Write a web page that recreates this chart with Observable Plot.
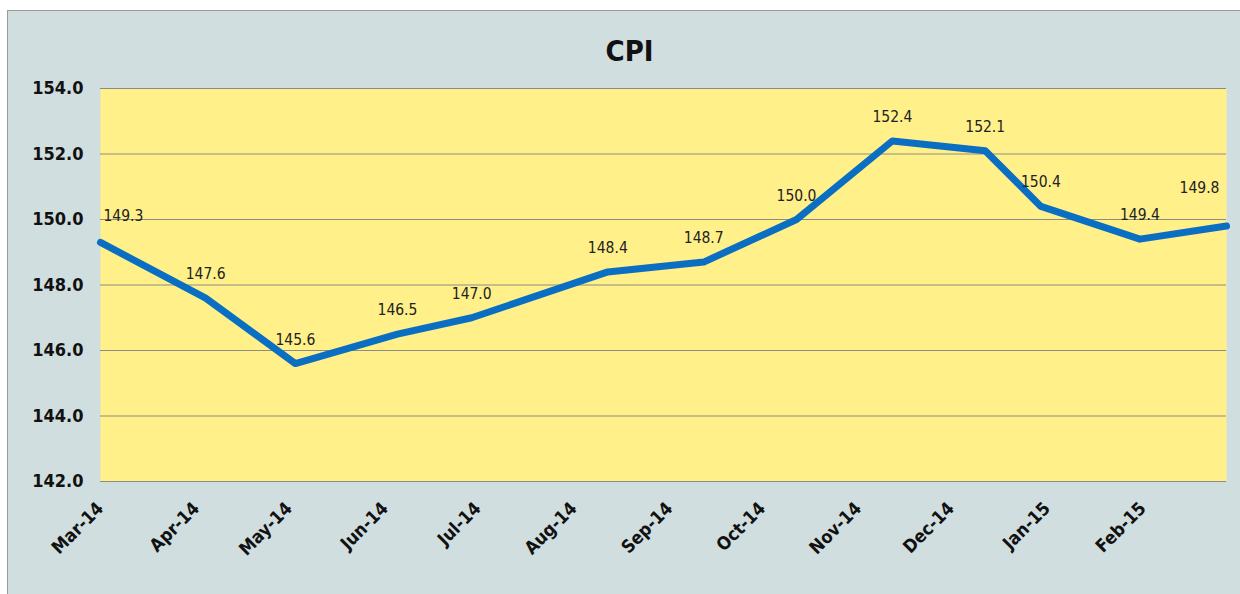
<!DOCTYPE html>
<html>
<head>
<meta charset="utf-8">
<script src="https://cdn.jsdelivr.net/npm/d3@7"></script>
<script src="https://cdn.jsdelivr.net/npm/@observablehq/plot@0.6"></script>
<style>
  html, body { margin: 0; padding: 0; background: #ffffff; }
  #frame {
    position: absolute; left: 7px; top: 10px;
    width: 1233px; height: 584px;
    background: #d0dee0;
    border-left: 1px solid #9a9a9a;
    border-top: 1px solid #9a9a9a;
  }
</style>
</head>
<body>
<div id="frame"></div>
<script>
// ---- data ----
const dates = ["2014-03-01","2014-04-04","2014-05-03","2014-06-05","2014-06-29","2014-08-12",
               "2014-09-12","2014-10-12","2014-11-12","2014-12-12","2014-12-30","2015-01-31","2015-02-28"];
const values = [149.3, 147.6, 145.6, 146.5, 147.0, 148.4, 148.7, 150.0, 152.4, 152.1, 150.4, 149.4, 149.8];
const tickMonths = ["2014-03-01","2014-04-01","2014-05-01","2014-06-01","2014-07-01","2014-08-01",
                    "2014-09-01","2014-10-01","2014-11-01","2014-12-01","2015-01-01","2015-02-01"];
const yTicks = [142, 144, 146, 148, 150, 152, 154];
const title = "CPI";

const data = dates.map((d, i) => ({date: new Date(d + "T00:00:00Z"), value: values[i], i}));
const n = data.length;
const xTicks = tickMonths.map(d => new Date(d + "T00:00:00Z"));

const font = "'Liberation Sans Narrow', 'DejaVu Sans Condensed', 'Roboto Condensed', sans-serif";

const chart = Plot.plot({
  width: 1232,
  height: 583,
  marginLeft: 92,
  marginRight: 14,
  marginTop: 77,
  marginBottom: 113,
  style: {background: "transparent", fontFamily: font, color: "#111", overflow: "visible"},
  x: {type: "utc", domain: [new Date("2014-03-01T00:00:00Z"), new Date("2015-02-28T00:00:00Z")]},
  y: {domain: [142, 154]},
  marks: [
    Plot.frame({fill: "#fff08a", stroke: null}),
    Plot.gridY(yTicks, {stroke: "#8c8c84", strokeOpacity: 1, strokeWidth: 1.2}),
    Plot.axisY({ticks: yTicks, tickSize: 0, tickPadding: 17, tickFormat: d3.format(".1f"),
                fontSize: 18, fontWeight: "bold", label: null}),
    Plot.axisX({ticks: xTicks, tickSize: 0, tickPadding: 24, tickRotate: -45,
                tickFormat: d3.utcFormat("%b-%y"), fontSize: 18, fontWeight: "bold", label: null}),
    Plot.line(data, {x: "date", y: "value", stroke: "#0a6fc2", strokeWidth: 7}),
    Plot.text(data.filter(d => d.i > 0 && d.i < n - 1), {x: "date", y: "value", text: d => d.value.toFixed(1),
      lineAnchor: "bottom", dy: -19, fontSize: 15.5, fill: "#222"}),
    Plot.text(data.filter(d => d.i === 0), {x: "date", y: "value", text: d => d.value.toFixed(1),
      lineAnchor: "bottom", textAnchor: "start", dx: 3, dy: -21, fontSize: 15.5, fill: "#222"}),
    Plot.text(data.filter(d => d.i === n - 1), {x: "date", y: "value", text: d => d.value.toFixed(1),
      lineAnchor: "bottom", textAnchor: "end", dx: -7, dy: -33, fontSize: 15.5, fill: "#222"}),
    Plot.text([title], {frameAnchor: "top", dx: -34, dy: -37, lineAnchor: "middle",
      fontSize: 29, fontWeight: "bold", fill: "#111"})
  ]
});
document.getElementById("frame").appendChild(chart);
</script>
</body>
</html>
